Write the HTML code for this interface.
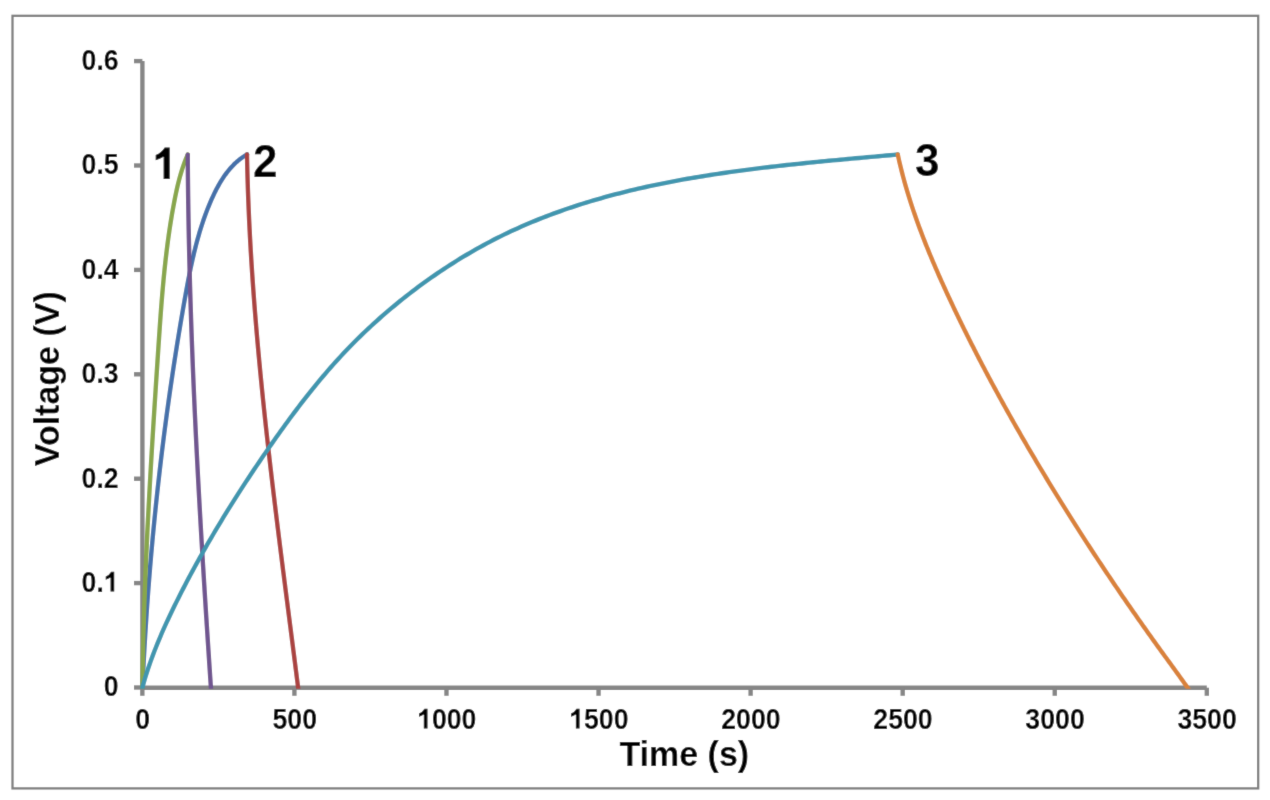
<!DOCTYPE html>
<html><head><meta charset="utf-8"><style>
html,body{margin:0;padding:0;background:#fff;}
body{width:1270px;height:800px;overflow:hidden;}
svg{display:block;}
text{font-family:"Liberation Sans",sans-serif;font-weight:bold;fill:#000;}
</style></head><body>
<svg width="1270" height="800" viewBox="0 0 1270 800">
<defs><filter id="soft" x="0" y="0" width="1270" height="800" filterUnits="userSpaceOnUse"><feConvolveMatrix order="3" kernelMatrix="1 8.3 1 8.3 69 8.3 1 8.3 1" edgeMode="duplicate" preserveAlpha="true"/></filter></defs>
<g filter="url(#soft)">
<rect x="0" y="0" width="1270" height="800" fill="#fff"/>
<rect x="12.5" y="15.8" width="1245.7" height="772.6" fill="none" stroke="#7f7f7f" stroke-width="2.3"/>
<g stroke="#868686" stroke-width="4.4" fill="none">
<line x1="142.4" y1="61.1" x2="142.4" y2="687.7"/>
<line x1="142.4" y1="687.7" x2="1206.8" y2="687.7"/>
<line x1="134" y1="687.5" x2="142.4" y2="687.5"/><line x1="134" y1="583.1" x2="142.4" y2="583.1"/><line x1="134" y1="478.7" x2="142.4" y2="478.7"/><line x1="134" y1="374.3" x2="142.4" y2="374.3"/><line x1="134" y1="269.9" x2="142.4" y2="269.9"/><line x1="134" y1="165.5" x2="142.4" y2="165.5"/><line x1="134" y1="61.1" x2="142.4" y2="61.1"/><line x1="142.35" y1="687.7" x2="142.35" y2="695.8"/><line x1="294.41" y1="687.7" x2="294.41" y2="695.8"/><line x1="446.48" y1="687.7" x2="446.48" y2="695.8"/><line x1="598.54" y1="687.7" x2="598.54" y2="695.8"/><line x1="750.61" y1="687.7" x2="750.61" y2="695.8"/><line x1="902.68" y1="687.7" x2="902.68" y2="695.8"/><line x1="1054.74" y1="687.7" x2="1054.74" y2="695.8"/><line x1="1206.8" y1="687.7" x2="1206.8" y2="695.8"/>
</g>
<defs><clipPath id="pc"><rect x="0" y="0" width="1270" height="688.8"/></clipPath></defs>
<g fill="none" stroke-width="4.4" stroke-linejoin="round" stroke-linecap="round" clip-path="url(#pc)">
<path d="M142.4 687.6 L142.5 685.46 L142.6 683.33 L142.7 681.19 L142.8 679.05 L142.9 676.91 L143.01 674.78 L143.11 672.64 L143.22 670.51 L143.33 668.37 L143.44 666.24 L143.55 664.1 L143.66 661.97 L143.78 659.83 L143.89 657.7 L144.01 655.56 L144.13 653.43 L144.25 651.29 L144.37 649.16 L144.49 647.03 L144.62 644.89 L144.74 642.76 L144.87 640.63 L145 638.5 L145.13 636.37 L145.26 634.23 L145.39 632.1 L145.53 629.97 L145.66 627.84 L145.8 625.71 L145.94 623.58 L146.08 621.45 L146.22 619.32 L146.36 617.19 L146.5 615.06 L146.65 612.93 L146.79 610.8 L146.94 608.67 L147.09 606.54 L147.24 604.41 L147.4 602.28 L147.55 600.15 L147.71 598.02 L147.86 595.9 L148.02 593.77 L148.18 591.64 L148.34 589.51 L148.5 587.39 L148.67 585.26 L148.83 583.13 L149 581.01 L149.17 578.88 L149.34 576.75 L149.51 574.63 L149.68 572.5 L149.86 570.38 L150.03 568.25 L150.21 566.12 L150.39 564 L150.57 561.87 L150.75 559.75 L150.93 557.63 L151.11 555.5 L151.3 553.38 L151.49 551.25 L151.68 549.13 L151.87 547.01 L152.06 544.88 L152.25 542.76 L152.45 540.64 L152.64 538.51 L152.84 536.39 L153.04 534.27 L153.24 532.14 L153.44 530.02 L153.64 527.9 L153.85 525.78 L154.06 523.66 L154.26 521.54 L154.47 519.41 L154.68 517.29 L154.9 515.17 L155.11 513.05 L155.33 510.93 L155.54 508.81 L155.76 506.69 L155.98 504.57 L156.2 502.45 L156.43 500.33 L156.65 498.21 L156.88 496.09 L157.1 493.97 L157.33 491.85 L157.56 489.73 L157.8 487.61 L158.03 485.49 L158.26 483.38 L158.5 481.26 L158.74 479.14 L158.98 477.02 L159.22 474.9 L159.46 472.78 L159.71 470.67 L159.95 468.55 L160.2 466.43 L160.45 464.31 L160.7 462.2 L160.95 460.08 L161.2 457.96 L161.46 455.84 L161.72 453.73 L161.97 451.61 L162.23 449.5 L162.49 447.38 L162.76 445.26 L163.02 443.15 L163.29 441.03 L163.55 438.91 L163.82 436.8 L164.09 434.68 L164.36 432.57 L164.64 430.45 L164.91 428.34 L165.19 426.22 L165.47 424.11 L165.75 421.99 L166.03 419.88 L166.31 417.76 L166.6 415.65 L166.88 413.53 L167.17 411.42 L167.46 409.31 L167.75 407.19 L168.04 405.08 L168.34 402.96 L168.63 400.85 L168.93 398.74 L169.23 396.62 L169.53 394.51 L169.83 392.4 L170.13 390.28 L170.44 388.17 L170.75 386.06 L171.05 383.94 L171.36 381.83 L171.67 379.72 L171.99 377.61 L172.3 375.49 L172.62 373.38 L172.94 371.27 L173.26 369.16 L173.58 367.04 L173.9 364.93 L174.22 362.82 L174.55 360.71 L174.88 358.6 L175.21 356.48 L175.54 354.37 L175.87 352.26 L176.2 350.15 L176.54 348.04 L176.87 345.93 L177.21 343.82 L177.55 341.71 L177.9 339.59 L178.24 337.48 L178.58 335.37 L178.93 333.26 L179.28 331.15 L179.63 329.04 L179.98 326.93 L180.33 324.82 L180.69 322.71 L181.05 320.6 L181.4 318.49 L181.76 316.38 L182.13 314.27 L182.49 312.16 L182.85 310.05 L183.22 307.94 L183.59 305.83 L183.96 303.72 L184.33 301.61 L184.7 299.5 L185.08 297.39 L185.46 295.28 L185.83 293.17 L186.22 291.06 L186.6 288.95 L186.99 286.84 L187.38 284.74 L187.78 282.63 L188.18 280.53 L188.59 278.42 L189 276.32 L189.41 274.22 L189.84 272.12 L190.27 270.03 L190.7 267.93 L191.14 265.84 L191.59 263.75 L192.05 261.66 L192.51 259.57 L192.99 257.49 L193.47 255.41 L193.96 253.33 L194.46 251.25 L194.97 249.18 L195.49 247.11 L196.02 245.05 L196.56 242.98 L197.11 240.92 L197.68 238.87 L198.25 236.82 L198.84 234.77 L199.44 232.73 L200.05 230.69 L200.68 228.65 L201.32 226.62 L201.97 224.6 L202.64 222.57 L203.32 220.56 L204.01 218.55 L204.73 216.54 L205.45 214.54 L206.2 212.54 L206.96 210.55 L207.73 208.57 L208.52 206.59 L209.33 204.62 L210.16 202.65 L211.01 200.69 L211.87 198.73 L212.75 196.78 L213.66 194.85 L214.58 192.92 L215.53 191 L216.51 189.1 L217.51 187.22 L218.54 185.35 L219.59 183.5 L220.68 181.67 L221.8 179.87 L222.95 178.09 L224.13 176.33 L225.35 174.6 L226.61 172.9 L227.91 171.24 L229.24 169.6 L230.62 168 L232.04 166.44 L233.51 164.92 L235.02 163.44 L236.57 162 L238.18 160.61 L239.84 159.26 L241.55 157.97 L243.31 156.72 L245.13 155.53 L247 154.4" stroke="#4471AA"/>
<path d="M247 154.4 L247.04 156.48 L247.08 158.55 L247.12 160.63 L247.17 162.7 L247.21 164.78 L247.26 166.86 L247.31 168.93 L247.36 171.01 L247.42 173.08 L247.48 175.16 L247.53 177.23 L247.59 179.31 L247.66 181.38 L247.72 183.46 L247.79 185.53 L247.85 187.61 L247.92 189.68 L247.99 191.75 L248.07 193.83 L248.14 195.9 L248.22 197.98 L248.3 200.05 L248.38 202.12 L248.46 204.2 L248.54 206.27 L248.63 208.34 L248.72 210.42 L248.81 212.49 L248.9 214.56 L248.99 216.63 L249.08 218.71 L249.18 220.78 L249.28 222.85 L249.38 224.92 L249.48 226.99 L249.58 229.07 L249.69 231.14 L249.79 233.21 L249.9 235.28 L250.01 237.35 L250.12 239.42 L250.24 241.5 L250.35 243.57 L250.47 245.64 L250.58 247.71 L250.7 249.78 L250.82 251.85 L250.95 253.92 L251.07 255.99 L251.2 258.06 L251.32 260.13 L251.45 262.2 L251.58 264.27 L251.72 266.34 L251.85 268.41 L251.98 270.48 L252.12 272.55 L252.26 274.62 L252.4 276.69 L252.54 278.76 L252.68 280.83 L252.83 282.9 L252.97 284.97 L253.12 287.03 L253.27 289.1 L253.41 291.17 L253.57 293.24 L253.72 295.31 L253.87 297.38 L254.03 299.45 L254.18 301.51 L254.34 303.58 L254.5 305.65 L254.66 307.72 L254.82 309.78 L254.99 311.85 L255.15 313.92 L255.32 315.99 L255.49 318.05 L255.65 320.12 L255.82 322.19 L256 324.26 L256.17 326.32 L256.34 328.39 L256.52 330.46 L256.69 332.52 L256.87 334.59 L257.05 336.66 L257.23 338.72 L257.41 340.79 L257.59 342.85 L257.78 344.92 L257.96 346.99 L258.15 349.05 L258.33 351.12 L258.52 353.18 L258.71 355.25 L258.9 357.31 L259.09 359.38 L259.29 361.45 L259.48 363.51 L259.68 365.58 L259.87 367.64 L260.07 369.71 L260.27 371.77 L260.47 373.84 L260.67 375.9 L260.87 377.97 L261.07 380.03 L261.28 382.09 L261.48 384.16 L261.69 386.22 L261.89 388.29 L262.1 390.35 L262.31 392.42 L262.52 394.48 L262.73 396.54 L262.94 398.61 L263.15 400.67 L263.37 402.73 L263.58 404.8 L263.8 406.86 L264.01 408.92 L264.23 410.99 L264.45 413.05 L264.67 415.11 L264.89 417.18 L265.11 419.24 L265.33 421.3 L265.55 423.37 L265.78 425.43 L266 427.49 L266.23 429.55 L266.45 431.62 L266.68 433.68 L266.91 435.74 L267.14 437.8 L267.37 439.87 L267.6 441.93 L267.83 443.99 L268.06 446.05 L268.29 448.11 L268.52 450.18 L268.76 452.24 L268.99 454.3 L269.23 456.36 L269.46 458.42 L269.7 460.48 L269.94 462.55 L270.17 464.61 L270.41 466.67 L270.65 468.73 L270.89 470.79 L271.13 472.85 L271.37 474.91 L271.62 476.98 L271.86 479.04 L272.1 481.1 L272.35 483.16 L272.59 485.22 L272.84 487.28 L273.08 489.34 L273.33 491.4 L273.57 493.46 L273.82 495.52 L274.07 497.58 L274.32 499.64 L274.57 501.7 L274.82 503.76 L275.07 505.82 L275.32 507.88 L275.57 509.94 L275.82 512 L276.07 514.06 L276.32 516.12 L276.58 518.18 L276.83 520.24 L277.08 522.3 L277.34 524.36 L277.59 526.42 L277.85 528.48 L278.1 530.54 L278.36 532.6 L278.61 534.66 L278.87 536.72 L279.13 538.78 L279.39 540.84 L279.64 542.9 L279.9 544.96 L280.16 547.02 L280.42 549.07 L280.68 551.13 L280.94 553.19 L281.2 555.25 L281.46 557.31 L281.72 559.37 L281.98 561.43 L282.24 563.49 L282.5 565.54 L282.76 567.6 L283.02 569.66 L283.28 571.72 L283.55 573.78 L283.81 575.84 L284.07 577.9 L284.33 579.95 L284.59 582.01 L284.86 584.07 L285.12 586.13 L285.38 588.19 L285.65 590.25 L285.91 592.3 L286.17 594.36 L286.44 596.42 L286.7 598.48 L286.97 600.54 L287.23 602.59 L287.5 604.65 L287.76 606.71 L288.02 608.77 L288.29 610.83 L288.55 612.88 L288.82 614.94 L289.08 617 L289.35 619.06 L289.61 621.11 L289.88 623.17 L290.14 625.23 L290.41 627.29 L290.67 629.34 L290.93 631.4 L291.2 633.46 L291.46 635.52 L291.73 637.57 L291.99 639.63 L292.26 641.69 L292.52 643.75 L292.79 645.8 L293.05 647.86 L293.31 649.92 L293.58 651.97 L293.84 654.03 L294.11 656.09 L294.37 658.15 L294.63 660.2 L294.9 662.26 L295.16 664.32 L295.42 666.37 L295.68 668.43 L295.95 670.49 L296.21 672.55 L296.47 674.6 L296.73 676.66 L296.99 678.72 L297.26 680.77 L297.52 682.83 L297.78 684.89 L298.04 686.94 L298.3 689" stroke="#AA4340"/>
<path d="M142.4 687.6 L142.43 685.53 L142.45 683.45 L142.48 681.38 L142.51 679.31 L142.54 677.23 L142.57 675.16 L142.6 673.09 L142.64 671.01 L142.67 668.94 L142.71 666.87 L142.75 664.8 L142.79 662.72 L142.83 660.65 L142.87 658.58 L142.91 656.51 L142.96 654.43 L143 652.36 L143.05 650.29 L143.09 648.22 L143.14 646.15 L143.19 644.08 L143.24 642.01 L143.29 639.93 L143.35 637.86 L143.4 635.79 L143.46 633.72 L143.51 631.65 L143.57 629.58 L143.63 627.51 L143.69 625.44 L143.75 623.37 L143.81 621.3 L143.87 619.23 L143.94 617.16 L144 615.09 L144.07 613.02 L144.13 610.95 L144.2 608.88 L144.27 606.81 L144.34 604.74 L144.41 602.67 L144.48 600.6 L144.55 598.53 L144.63 596.46 L144.7 594.39 L144.78 592.32 L144.85 590.25 L144.93 588.19 L145.01 586.12 L145.09 584.05 L145.17 581.98 L145.25 579.91 L145.33 577.84 L145.41 575.77 L145.5 573.7 L145.58 571.64 L145.67 569.57 L145.75 567.5 L145.84 565.43 L145.93 563.36 L146.02 561.3 L146.11 559.23 L146.2 557.16 L146.29 555.09 L146.38 553.02 L146.48 550.96 L146.57 548.89 L146.67 546.82 L146.76 544.75 L146.86 542.68 L146.95 540.62 L147.05 538.55 L147.15 536.48 L147.25 534.41 L147.35 532.35 L147.45 530.28 L147.55 528.21 L147.65 526.14 L147.76 524.08 L147.86 522.01 L147.96 519.94 L148.07 517.88 L148.18 515.81 L148.28 513.74 L148.39 511.67 L148.5 509.61 L148.6 507.54 L148.71 505.47 L148.82 503.41 L148.93 501.34 L149.04 499.27 L149.16 497.21 L149.27 495.14 L149.38 493.07 L149.49 491 L149.61 488.94 L149.72 486.87 L149.84 484.8 L149.95 482.74 L150.07 480.67 L150.19 478.6 L150.3 476.54 L150.42 474.47 L150.54 472.4 L150.66 470.34 L150.78 468.27 L150.9 466.2 L151.02 464.14 L151.14 462.07 L151.26 460 L151.38 457.94 L151.5 455.87 L151.63 453.8 L151.75 451.73 L151.87 449.67 L152 447.6 L152.12 445.53 L152.25 443.47 L152.37 441.4 L152.5 439.33 L152.63 437.27 L152.75 435.2 L152.88 433.13 L153.01 431.06 L153.14 429 L153.26 426.93 L153.39 424.86 L153.52 422.8 L153.65 420.73 L153.78 418.66 L153.91 416.59 L154.04 414.53 L154.17 412.46 L154.3 410.39 L154.43 408.32 L154.56 406.26 L154.7 404.19 L154.83 402.12 L154.96 400.05 L155.09 397.99 L155.23 395.92 L155.36 393.85 L155.49 391.78 L155.63 389.72 L155.76 387.65 L155.89 385.58 L156.03 383.51 L156.16 381.44 L156.3 379.38 L156.43 377.31 L156.57 375.24 L156.7 373.17 L156.84 371.1 L156.97 369.04 L157.11 366.97 L157.25 364.9 L157.38 362.83 L157.52 360.76 L157.65 358.69 L157.79 356.62 L157.93 354.55 L158.06 352.49 L158.2 350.42 L158.34 348.35 L158.47 346.28 L158.61 344.21 L158.75 342.14 L158.89 340.07 L159.03 338 L159.17 335.93 L159.31 333.86 L159.45 331.79 L159.59 329.73 L159.73 327.66 L159.87 325.59 L160.02 323.52 L160.17 321.45 L160.31 319.38 L160.46 317.31 L160.61 315.25 L160.77 313.18 L160.92 311.11 L161.08 309.04 L161.24 306.98 L161.4 304.91 L161.56 302.84 L161.72 300.78 L161.89 298.71 L162.06 296.64 L162.23 294.58 L162.41 292.51 L162.59 290.45 L162.77 288.38 L162.95 286.32 L163.14 284.26 L163.33 282.19 L163.52 280.13 L163.71 278.07 L163.91 276.01 L164.12 273.95 L164.32 271.89 L164.53 269.82 L164.75 267.77 L164.96 265.71 L165.19 263.65 L165.41 261.59 L165.64 259.53 L165.88 257.48 L166.12 255.42 L166.36 253.37 L166.61 251.31 L166.86 249.26 L167.12 247.2 L167.38 245.15 L167.64 243.1 L167.92 241.05 L168.19 239 L168.48 236.95 L168.76 234.9 L169.06 232.85 L169.35 230.81 L169.66 228.76 L169.97 226.71 L170.28 224.67 L170.61 222.63 L170.93 220.58 L171.27 218.54 L171.61 216.5 L171.95 214.46 L172.3 212.42 L172.66 210.39 L173.03 208.35 L173.4 206.31 L173.78 204.28 L174.16 202.24 L174.56 200.21 L174.96 198.18 L175.36 196.15 L175.78 194.12 L176.21 192.1 L176.65 190.07 L177.1 188.06 L177.56 186.04 L178.04 184.03 L178.54 182.02 L179.05 180.02 L179.58 178.02 L180.13 176.03 L180.7 174.04 L181.29 172.06 L181.9 170.09 L182.54 168.12 L183.2 166.16 L183.89 164.21 L184.6 162.27 L185.34 160.34 L186.11 158.42 L186.92 156.5 L187.75 154.6" stroke="#88A64B"/>
<path d="M187.75 154.6 L187.76 156.67 L187.77 158.73 L187.79 160.8 L187.8 162.86 L187.82 164.93 L187.83 167 L187.85 169.06 L187.87 171.13 L187.89 173.19 L187.9 175.26 L187.92 177.32 L187.95 179.39 L187.97 181.46 L187.99 183.52 L188.01 185.59 L188.04 187.65 L188.06 189.72 L188.09 191.78 L188.11 193.85 L188.14 195.92 L188.17 197.98 L188.2 200.05 L188.23 202.11 L188.26 204.18 L188.29 206.24 L188.32 208.31 L188.35 210.37 L188.39 212.44 L188.42 214.51 L188.45 216.57 L188.49 218.64 L188.53 220.7 L188.56 222.77 L188.6 224.83 L188.64 226.9 L188.68 228.96 L188.72 231.03 L188.76 233.09 L188.8 235.16 L188.84 237.22 L188.89 239.29 L188.93 241.35 L188.97 243.42 L189.02 245.48 L189.07 247.55 L189.11 249.61 L189.16 251.68 L189.21 253.74 L189.26 255.81 L189.31 257.87 L189.36 259.94 L189.41 262 L189.46 264.07 L189.51 266.13 L189.56 268.2 L189.62 270.26 L189.67 272.33 L189.73 274.39 L189.78 276.46 L189.84 278.52 L189.9 280.59 L189.95 282.65 L190.01 284.72 L190.07 286.78 L190.13 288.84 L190.19 290.91 L190.25 292.97 L190.31 295.04 L190.38 297.1 L190.44 299.17 L190.5 301.23 L190.57 303.3 L190.63 305.36 L190.7 307.43 L190.76 309.49 L190.83 311.55 L190.9 313.62 L190.97 315.68 L191.03 317.75 L191.1 319.81 L191.17 321.88 L191.24 323.94 L191.32 326 L191.39 328.07 L191.46 330.13 L191.53 332.2 L191.61 334.26 L191.68 336.33 L191.76 338.39 L191.83 340.45 L191.91 342.52 L191.98 344.58 L192.06 346.65 L192.14 348.71 L192.22 350.77 L192.3 352.84 L192.38 354.9 L192.46 356.97 L192.54 359.03 L192.62 361.09 L192.7 363.16 L192.78 365.22 L192.87 367.28 L192.95 369.35 L193.03 371.41 L193.12 373.48 L193.2 375.54 L193.29 377.6 L193.38 379.67 L193.46 381.73 L193.55 383.79 L193.64 385.86 L193.73 387.92 L193.82 389.99 L193.91 392.05 L194 394.11 L194.09 396.18 L194.18 398.24 L194.27 400.3 L194.36 402.37 L194.45 404.43 L194.55 406.49 L194.64 408.56 L194.73 410.62 L194.83 412.68 L194.92 414.75 L195.02 416.81 L195.12 418.87 L195.21 420.94 L195.31 423 L195.41 425.06 L195.51 427.13 L195.61 429.19 L195.7 431.25 L195.8 433.32 L195.9 435.38 L196 437.44 L196.11 439.51 L196.21 441.57 L196.31 443.63 L196.41 445.7 L196.51 447.76 L196.62 449.82 L196.72 451.88 L196.83 453.95 L196.93 456.01 L197.04 458.07 L197.14 460.14 L197.25 462.2 L197.35 464.26 L197.46 466.32 L197.57 468.39 L197.68 470.45 L197.78 472.51 L197.89 474.58 L198 476.64 L198.11 478.7 L198.22 480.76 L198.33 482.83 L198.44 484.89 L198.55 486.95 L198.67 489.01 L198.78 491.08 L198.89 493.14 L199 495.2 L199.12 497.27 L199.23 499.33 L199.34 501.39 L199.46 503.45 L199.57 505.52 L199.69 507.58 L199.8 509.64 L199.92 511.7 L200.04 513.76 L200.15 515.83 L200.27 517.89 L200.39 519.95 L200.5 522.01 L200.62 524.08 L200.74 526.14 L200.86 528.2 L200.98 530.26 L201.1 532.33 L201.22 534.39 L201.34 536.45 L201.46 538.51 L201.58 540.57 L201.7 542.64 L201.82 544.7 L201.94 546.76 L202.07 548.82 L202.19 550.88 L202.31 552.95 L202.43 555.01 L202.56 557.07 L202.68 559.13 L202.81 561.19 L202.93 563.26 L203.05 565.32 L203.18 567.38 L203.31 569.44 L203.43 571.5 L203.56 573.57 L203.68 575.63 L203.81 577.69 L203.94 579.75 L204.06 581.81 L204.19 583.88 L204.32 585.94 L204.45 588 L204.57 590.06 L204.7 592.12 L204.83 594.18 L204.96 596.25 L205.09 598.31 L205.22 600.37 L205.35 602.43 L205.48 604.49 L205.61 606.55 L205.74 608.61 L205.87 610.68 L206 612.74 L206.13 614.8 L206.26 616.86 L206.4 618.92 L206.53 620.98 L206.66 623.05 L206.79 625.11 L206.93 627.17 L207.06 629.23 L207.19 631.29 L207.33 633.35 L207.46 635.41 L207.59 637.47 L207.73 639.54 L207.86 641.6 L208 643.66 L208.13 645.72 L208.27 647.78 L208.4 649.84 L208.54 651.9 L208.67 653.96 L208.81 656.02 L208.94 658.09 L209.08 660.15 L209.21 662.21 L209.35 664.27 L209.49 666.33 L209.62 668.39 L209.76 670.45 L209.9 672.51 L210.04 674.57 L210.17 676.63 L210.31 678.7 L210.45 680.76 L210.59 682.82 L210.72 684.88 L210.86 686.94 L211 689" stroke="#70558F"/>
<path d="M142.4 687.6 L143.42 683.88 L144.49 680.17 L145.6 676.47 L146.76 672.8 L147.95 669.13 L149.18 665.49 L150.45 661.85 L151.75 658.23 L153.09 654.63 L154.46 651.03 L155.87 647.45 L157.3 643.88 L158.77 640.32 L160.26 636.78 L161.78 633.24 L163.33 629.72 L164.9 626.21 L166.5 622.7 L168.11 619.21 L169.75 615.72 L171.4 612.25 L173.08 608.78 L174.77 605.32 L176.48 601.87 L178.2 598.42 L179.93 594.98 L181.68 591.55 L183.44 588.13 L185.21 584.71 L186.99 581.3 L188.79 577.89 L190.6 574.5 L192.43 571.11 L194.26 567.72 L196.11 564.34 L197.97 560.97 L199.84 557.61 L201.73 554.25 L203.62 550.9 L205.53 547.55 L207.45 544.21 L209.38 540.88 L211.32 537.56 L213.27 534.24 L215.23 530.92 L217.2 527.61 L219.19 524.31 L221.18 521.02 L223.18 517.73 L225.2 514.44 L227.22 511.16 L229.26 507.89 L231.3 504.63 L233.36 501.37 L235.42 498.11 L237.49 494.86 L239.57 491.62 L241.66 488.38 L243.77 485.15 L245.87 481.92 L247.99 478.7 L250.12 475.49 L252.25 472.28 L254.4 469.07 L256.55 465.87 L258.71 462.68 L260.87 459.49 L263.05 456.31 L265.23 453.13 L267.42 449.96 L269.62 446.79 L271.83 443.63 L274.04 440.47 L276.26 437.32 L278.49 434.18 L280.73 431.04 L282.98 427.91 L285.24 424.79 L287.52 421.68 L289.8 418.57 L292.09 415.48 L294.4 412.39 L296.71 409.32 L299.04 406.25 L301.38 403.2 L303.74 400.15 L306.11 397.12 L308.49 394.1 L310.89 391.09 L313.3 388.1 L315.73 385.12 L318.17 382.15 L320.63 379.2 L323.1 376.26 L325.6 373.33 L328.1 370.42 L330.63 367.53 L333.18 364.65 L335.74 361.79 L338.32 358.94 L340.92 356.12 L343.54 353.31 L346.18 350.52 L348.84 347.74 L351.52 344.99 L354.22 342.25 L356.94 339.54 L359.68 336.84 L362.45 334.16 L365.23 331.5 L368.03 328.86 L370.85 326.24 L373.69 323.63 L376.54 321.05 L379.42 318.49 L382.31 315.94 L385.23 313.41 L388.16 310.9 L391.1 308.41 L394.07 305.94 L397.05 303.49 L400.05 301.06 L403.07 298.64 L406.1 296.25 L409.15 293.87 L412.21 291.52 L415.29 289.18 L418.39 286.86 L421.5 284.57 L424.63 282.29 L427.78 280.04 L430.93 277.81 L434.11 275.6 L437.3 273.41 L440.5 271.24 L443.72 269.1 L446.95 266.98 L450.2 264.88 L453.46 262.8 L456.73 260.75 L460.02 258.72 L463.32 256.72 L466.64 254.74 L469.97 252.79 L473.31 250.86 L476.66 248.95 L480.03 247.07 L483.41 245.22 L486.8 243.39 L490.21 241.59 L493.62 239.81 L497.05 238.07 L500.49 236.35 L503.95 234.65 L507.41 232.99 L510.88 231.35 L514.37 229.73 L517.87 228.15 L521.38 226.59 L524.89 225.05 L528.42 223.54 L531.96 222.06 L535.51 220.6 L539.07 219.16 L542.64 217.75 L546.22 216.37 L549.8 215 L553.4 213.67 L557.01 212.35 L560.62 211.06 L564.24 209.79 L567.87 208.54 L571.51 207.31 L575.16 206.11 L578.82 204.93 L582.48 203.77 L586.15 202.63 L589.83 201.51 L593.51 200.41 L597.2 199.33 L600.9 198.27 L604.61 197.23 L608.32 196.21 L612.04 195.21 L615.76 194.23 L619.49 193.27 L623.23 192.32 L626.97 191.39 L630.71 190.48 L634.46 189.59 L638.22 188.72 L641.98 187.86 L645.75 187.02 L649.52 186.19 L653.29 185.38 L657.07 184.59 L660.85 183.81 L664.64 183.05 L668.43 182.3 L672.22 181.57 L676.01 180.85 L679.81 180.15 L683.61 179.46 L687.42 178.78 L691.23 178.12 L695.03 177.47 L698.84 176.83 L702.66 176.21 L706.47 175.59 L710.29 174.99 L714.1 174.4 L717.92 173.83 L721.74 173.26 L725.56 172.7 L729.38 172.16 L733.2 171.62 L737.03 171.1 L740.85 170.58 L744.67 170.08 L748.49 169.58 L752.31 169.09 L756.13 168.61 L759.95 168.14 L763.77 167.68 L767.59 167.22 L771.41 166.78 L775.22 166.34 L779.04 165.9 L782.86 165.48 L786.68 165.06 L790.5 164.64 L794.32 164.23 L798.14 163.83 L801.95 163.44 L805.77 163.04 L809.59 162.66 L813.42 162.28 L817.24 161.9 L821.06 161.53 L824.88 161.16 L828.7 160.79 L832.53 160.43 L836.35 160.07 L840.18 159.71 L844.01 159.35 L847.84 159 L851.67 158.65 L855.5 158.3 L859.33 157.96 L863.17 157.61 L867 157.26 L870.84 156.92 L874.68 156.57 L878.52 156.23 L882.36 155.89 L886.2 155.54 L890.05 155.19 L893.9 154.85 L897.75 154.5" stroke="#3F96AF"/>
<path d="M897.75 154.5 L898.25 156.81 L898.77 159.12 L899.3 161.43 L899.84 163.73 L900.39 166.03 L900.95 168.33 L901.53 170.62 L902.11 172.91 L902.71 175.2 L903.32 177.48 L903.93 179.76 L904.56 182.04 L905.2 184.31 L905.85 186.58 L906.51 188.85 L907.18 191.11 L907.86 193.37 L908.55 195.63 L909.25 197.88 L909.96 200.13 L910.67 202.38 L911.4 204.63 L912.14 206.87 L912.88 209.11 L913.64 211.34 L914.4 213.58 L915.17 215.81 L915.95 218.04 L916.74 220.26 L917.54 222.49 L918.34 224.71 L919.15 226.92 L919.98 229.14 L920.8 231.35 L921.64 233.56 L922.48 235.77 L923.33 237.97 L924.19 240.17 L925.05 242.37 L925.92 244.57 L926.8 246.76 L927.69 248.95 L928.58 251.14 L929.47 253.33 L930.38 255.51 L931.29 257.7 L932.2 259.88 L933.12 262.05 L934.05 264.23 L934.98 266.4 L935.92 268.58 L936.86 270.74 L937.81 272.91 L938.76 275.08 L939.72 277.24 L940.68 279.4 L941.65 281.56 L942.62 283.72 L943.6 285.87 L944.58 288.02 L945.56 290.18 L946.55 292.33 L947.54 294.47 L948.53 296.62 L949.53 298.76 L950.53 300.91 L951.54 303.05 L952.55 305.18 L953.56 307.32 L954.57 309.46 L955.59 311.59 L956.61 313.72 L957.64 315.85 L958.66 317.98 L959.7 320.11 L960.73 322.23 L961.77 324.36 L962.81 326.48 L963.85 328.6 L964.9 330.72 L965.94 332.84 L967 334.95 L968.05 337.07 L969.11 339.18 L970.17 341.29 L971.23 343.4 L972.3 345.51 L973.37 347.61 L974.44 349.72 L975.52 351.82 L976.6 353.92 L977.68 356.02 L978.76 358.12 L979.85 360.22 L980.94 362.31 L982.03 364.41 L983.13 366.5 L984.23 368.59 L985.33 370.68 L986.43 372.77 L987.54 374.85 L988.65 376.94 L989.76 379.02 L990.87 381.1 L991.99 383.19 L993.11 385.26 L994.23 387.34 L995.36 389.42 L996.48 391.49 L997.61 393.57 L998.75 395.64 L999.88 397.71 L1001.02 399.78 L1002.16 401.85 L1003.3 403.92 L1004.45 405.98 L1005.59 408.05 L1006.74 410.11 L1007.89 412.17 L1009.05 414.23 L1010.21 416.29 L1011.37 418.35 L1012.53 420.4 L1013.69 422.46 L1014.86 424.51 L1016.03 426.57 L1017.2 428.62 L1018.37 430.67 L1019.55 432.72 L1020.72 434.76 L1021.9 436.81 L1023.09 438.86 L1024.27 440.9 L1025.46 442.94 L1026.64 444.98 L1027.84 447.02 L1029.03 449.06 L1030.22 451.1 L1031.42 453.14 L1032.62 455.17 L1033.82 457.21 L1035.02 459.24 L1036.23 461.27 L1037.44 463.31 L1038.65 465.33 L1039.86 467.36 L1041.07 469.39 L1042.29 471.42 L1043.5 473.44 L1044.72 475.47 L1045.95 477.49 L1047.17 479.51 L1048.39 481.53 L1049.62 483.55 L1050.85 485.57 L1052.08 487.59 L1053.32 489.6 L1054.55 491.62 L1055.79 493.63 L1057.03 495.64 L1058.27 497.65 L1059.52 499.66 L1060.76 501.67 L1062.01 503.68 L1063.26 505.68 L1064.51 507.69 L1065.77 509.69 L1067.02 511.69 L1068.28 513.69 L1069.54 515.69 L1070.8 517.69 L1072.06 519.69 L1073.33 521.69 L1074.6 523.68 L1075.86 525.68 L1077.14 527.67 L1078.41 529.66 L1079.68 531.65 L1080.96 533.64 L1082.24 535.63 L1083.52 537.61 L1084.8 539.6 L1086.09 541.58 L1087.37 543.57 L1088.66 545.55 L1089.95 547.53 L1091.24 549.51 L1092.54 551.48 L1093.83 553.46 L1095.13 555.44 L1096.43 557.41 L1097.73 559.38 L1099.03 561.35 L1100.34 563.32 L1101.65 565.29 L1102.95 567.26 L1104.26 569.23 L1105.58 571.19 L1106.89 573.16 L1108.21 575.12 L1109.52 577.08 L1110.84 579.04 L1112.16 581 L1113.49 582.96 L1114.81 584.92 L1116.14 586.87 L1117.47 588.83 L1118.8 590.78 L1120.13 592.73 L1121.46 594.68 L1122.8 596.63 L1124.14 598.58 L1125.47 600.52 L1126.81 602.47 L1128.16 604.41 L1129.5 606.35 L1130.85 608.29 L1132.19 610.23 L1133.54 612.17 L1134.9 614.11 L1136.25 616.05 L1137.6 617.98 L1138.96 619.92 L1140.32 621.85 L1141.68 623.78 L1143.04 625.71 L1144.4 627.64 L1145.77 629.56 L1147.13 631.49 L1148.5 633.42 L1149.87 635.34 L1151.25 637.26 L1152.62 639.18 L1154 641.1 L1155.37 643.02 L1156.75 644.94 L1158.13 646.85 L1159.52 648.77 L1160.9 650.68 L1162.29 652.59 L1163.67 654.51 L1165.06 656.42 L1166.45 658.33 L1167.84 660.24 L1169.23 662.15 L1170.62 664.06 L1172.01 665.97 L1173.39 667.88 L1174.78 669.79 L1176.16 671.7 L1177.55 673.62 L1178.93 675.53 L1180.31 677.45 L1181.68 679.37 L1183.05 681.29 L1184.42 683.21 L1185.78 685.14 L1187.14 687.07 L1188.5 689" stroke="#D9823A"/>
</g>
<g font-size="26.7" fill="#000">
<text x="103.81" y="0" transform="matrix(1 0 0 1.09 0 695.99)">0</text>
<text x="81.54" y="0" transform="matrix(1 0 0 1.09 0 591.59)">0</text><text x="96.39" y="0" transform="matrix(1 0 0 1.09 0 591.59)">.</text><path d="M114.22 591.59L114.22 571.68L111.21 571.68Q109.2 574.9 105.73 576.43L105.73 579.77Q108.4 578.94 110.54 577.55L110.54 591.59Z"/>
<text x="81.54" y="0" transform="matrix(1 0 0 1.09 0 487.69)">0</text><text x="96.39" y="0" transform="matrix(1 0 0 1.09 0 487.69)">.</text><text x="103.81" y="0" transform="matrix(1 0 0 1.09 0 487.69)">2</text>
<text x="81.54" y="0" transform="matrix(1 0 0 1.09 0 382.79)">0</text><text x="96.39" y="0" transform="matrix(1 0 0 1.09 0 382.79)">.</text><text x="103.81" y="0" transform="matrix(1 0 0 1.09 0 382.79)">3</text>
<text x="81.54" y="0" transform="matrix(1 0 0 1.09 0 279.39)">0</text><text x="96.39" y="0" transform="matrix(1 0 0 1.09 0 279.39)">.</text><text x="103.81" y="0" transform="matrix(1 0 0 1.09 0 279.39)">4</text>
<text x="81.54" y="0" transform="matrix(1 0 0 1.09 0 173.99)">0</text><text x="96.39" y="0" transform="matrix(1 0 0 1.09 0 173.99)">.</text><text x="103.81" y="0" transform="matrix(1 0 0 1.09 0 173.99)">5</text>
<text x="81.54" y="0" transform="matrix(1 0 0 1.09 0 69.59)">0</text><text x="96.39" y="0" transform="matrix(1 0 0 1.09 0 69.59)">.</text><text x="103.81" y="0" transform="matrix(1 0 0 1.09 0 69.59)">6</text>
<text x="135.23" y="0" transform="matrix(1 0 0 1.09 0 728.6)">0</text>
<text x="272.44" y="0" transform="matrix(1 0 0 1.09 0 728.6)">5</text><text x="287.29" y="0" transform="matrix(1 0 0 1.09 0 728.6)">0</text><text x="302.14" y="0" transform="matrix(1 0 0 1.09 0 728.6)">0</text>
<path d="M427.49 728.6L427.49 708.69L424.48 708.69Q422.47 711.92 419 713.45L419 716.78Q421.67 715.95 423.81 714.56L423.81 728.6Z"/><text x="431.93" y="0" transform="matrix(1 0 0 1.09 0 728.6)">0</text><text x="446.78" y="0" transform="matrix(1 0 0 1.09 0 728.6)">0</text><text x="461.63" y="0" transform="matrix(1 0 0 1.09 0 728.6)">0</text>
<path d="M579.56 728.6L579.56 708.69L576.54 708.69Q574.54 711.92 571.07 713.45L571.07 716.78Q573.74 715.95 575.87 714.56L575.87 728.6Z"/><text x="584" y="0" transform="matrix(1 0 0 1.09 0 728.6)">5</text><text x="598.84" y="0" transform="matrix(1 0 0 1.09 0 728.6)">0</text><text x="613.69" y="0" transform="matrix(1 0 0 1.09 0 728.6)">0</text>
<text x="721.21" y="0" transform="matrix(1 0 0 1.09 0 728.6)">2</text><text x="736.06" y="0" transform="matrix(1 0 0 1.09 0 728.6)">0</text><text x="750.91" y="0" transform="matrix(1 0 0 1.09 0 728.6)">0</text><text x="765.76" y="0" transform="matrix(1 0 0 1.09 0 728.6)">0</text>
<text x="873.28" y="0" transform="matrix(1 0 0 1.09 0 728.6)">2</text><text x="888.13" y="0" transform="matrix(1 0 0 1.09 0 728.6)">5</text><text x="902.98" y="0" transform="matrix(1 0 0 1.09 0 728.6)">0</text><text x="917.82" y="0" transform="matrix(1 0 0 1.09 0 728.6)">0</text>
<text x="1025.34" y="0" transform="matrix(1 0 0 1.09 0 728.6)">3</text><text x="1040.19" y="0" transform="matrix(1 0 0 1.09 0 728.6)">0</text><text x="1055.04" y="0" transform="matrix(1 0 0 1.09 0 728.6)">0</text><text x="1069.89" y="0" transform="matrix(1 0 0 1.09 0 728.6)">0</text>
<text x="1177.41" y="0" transform="matrix(1 0 0 1.09 0 728.6)">3</text><text x="1192.26" y="0" transform="matrix(1 0 0 1.09 0 728.6)">5</text><text x="1207.1" y="0" transform="matrix(1 0 0 1.09 0 728.6)">0</text><text x="1221.95" y="0" transform="matrix(1 0 0 1.09 0 728.6)">0</text>
</g>
<text x="684.3" y="0" font-size="34" text-anchor="middle" transform="matrix(1 0 0 1.035 0 766)">Time (s)</text>
<text transform="translate(59.2 378.75) rotate(-90) scale(1 1.035)" font-size="34" text-anchor="middle">Voltage (V)</text>
<g font-size="44" fill="#000">
<path d="M169.69 178.9L169.69 147.4L164.72 147.4Q161.42 152.5 155.7 154.92L155.7 160.2Q160.1 158.88 163.62 156.68L163.62 178.9Z"/>
<text x="253" y="0" transform="matrix(1 0 0 1.054 0 176.6)">2</text>
<text x="915" y="0" transform="matrix(1 0 0 1.054 0 175.6)">3</text>
</g>
</g>
</svg>
</body></html>
